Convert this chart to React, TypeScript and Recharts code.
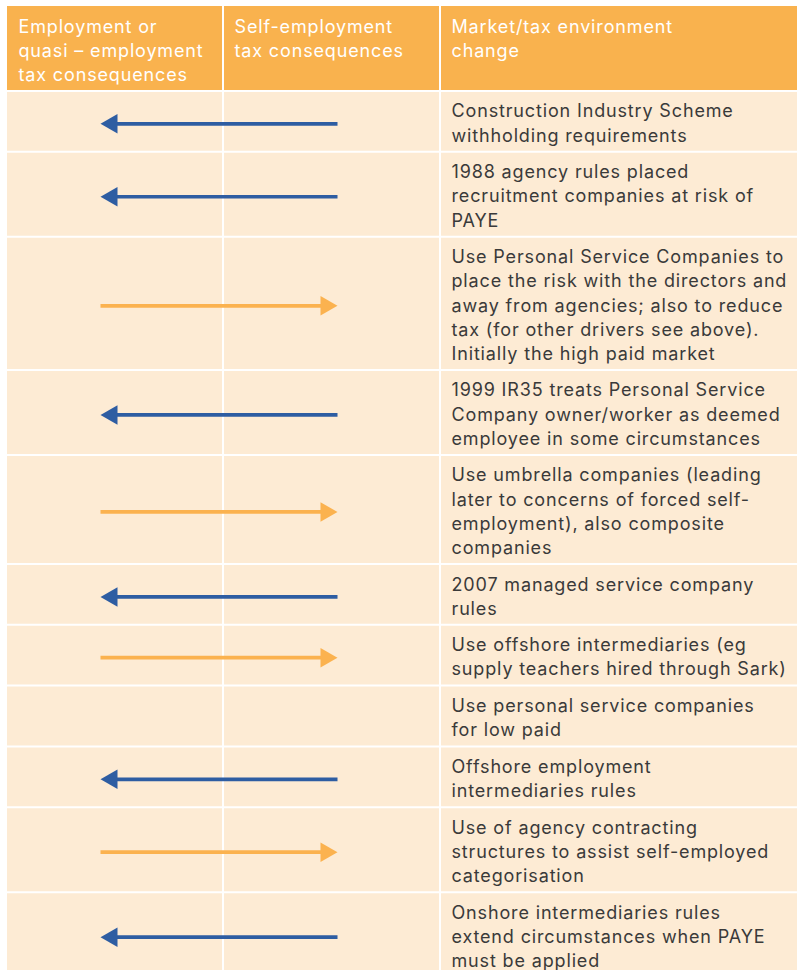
import React from 'react';
import { ComposedChart, XAxis, YAxis, ReferenceArea, ReferenceLine, Line, Scatter } from 'recharts';

// ---- data ----
const HEADER_LABELS: string[][] = [
  ['Employment or', 'quasi – employment', 'tax consequences'],
  ['Self-employment', 'tax consequences'],
  ['Market/tax environment', 'change'],
];

const CHANGE_TEXT: string[][] = [
  ['Construction Industry Scheme', 'withholding requirements'],
  ['1988 agency rules placed', 'recruitment companies at risk of', 'PAYE'],
  [
    'Use Personal Service Companies to',
    'place the risk with the directors and',
    'away from agencies; also to reduce',
    'tax (for other drivers see above).',
    'Initially the high paid market',
  ],
  ['1999 IR35 treats Personal Service', 'Company owner/worker as deemed', 'employee in some circumstances'],
  ['Use umbrella companies (leading', 'later to concerns of forced self-', 'employment), also composite', 'companies'],
  ['2007 managed service company', 'rules'],
  ['Use offshore intermediaries (eg', 'supply teachers hired through Sark)'],
  ['Use personal service companies', 'for low paid'],
  ['Offshore employment', 'intermediaries rules'],
  ['Use of agency contracting', 'structures to assist self-employed', 'categorisation'],
  ['Onshore intermediaries rules', 'extend circumstances when PAYE', 'must be applied'],
];

// direction of the shift: toward employment (left) or self-employment (right)
const SHIFT: ('employment' | 'self' | 'none')[] = [
  'employment', 'employment', 'self', 'employment', 'self', 'employment', 'self', 'none', 'employment', 'self', 'employment',
];

// ---- layout / style ----
const W = 797;
const H = 970;
const MARGIN = { top: 6, right: 0, bottom: 0, left: 7 };
const X_MAX = 790;
const Y_MAX = 964;
const COL_EDGES = [0, 216, 433, 790];
const LINE_H = 24.15;
const PAD = 12.5;
const BASE = 26.5;
const TEXT_INSET = 11.5;
const ARROW_A = 93.5;
const ARROW_B = 330.5;
const HEAD_LEN = 17;
const HEAD_H = 19.5;
const FONT = 'Inter, "Open Sans", sans-serif';
const FONT_SIZE = 18;
const LETTER_SPACING = 0.85;
const C_HEADER = '#F9B24E';
const C_ROW = '#FDEBD4';
const C_BLUE = '#2E5DA2';
const C_ORANGE = '#FBB24F';
const C_TEXT = '#3A3A3A';

const headerH = Math.max(...HEADER_LABELS.map((l) => l.length)) * LINE_H + PAD;

type Band = { y1: number; y2: number; lines: string[]; shift: string };
const bands: Band[] = [];
{
  let y = headerH;
  CHANGE_TEXT.forEach((lines, i) => {
    const h = lines.length * LINE_H + PAD;
    bands.push({ y1: y, y2: y + h, lines, shift: SHIFT[i] });
    y += h;
  });
}

const cellLabel = (lines: string[], color: string) => (p: any) => {
  const vb = p.viewBox || {};
  const x = vb.x + TEXT_INSET;
  const y = vb.y + BASE;
  return (
    <text
      x={x}
      y={y}
      fill={color}
      fontFamily={FONT}
      fontSize={FONT_SIZE}
      fontWeight={400}
      style={{ letterSpacing: `${LETTER_SPACING}px` }}
    >
      {lines.map((l, i) => (
        <tspan key={i} x={x} y={y + i * LINE_H}>
          {l}
        </tspan>
      ))}
    </text>
  );
};

const headShape = (dir: 'left' | 'right', color: string) => (p: any) => {
  const { cx, cy } = p;
  const pts =
    dir === 'left'
      ? `${cx},${cy} ${cx + HEAD_LEN},${cy - HEAD_H / 2} ${cx + HEAD_LEN},${cy + HEAD_H / 2}`
      : `${cx},${cy} ${cx - HEAD_LEN},${cy - HEAD_H / 2} ${cx - HEAD_LEN},${cy + HEAD_H / 2}`;
  return <polygon points={pts} fill={color} />;
};

export default function App() {
  return (
    <div style={{ position: 'absolute', left: 0, top: 0, width: W, height: H, background: '#fff' }}>
      <ComposedChart width={W} height={H} margin={MARGIN}>
        <XAxis type="number" dataKey="x" domain={[0, X_MAX]} allowDataOverflow hide />
        <YAxis type="number" dataKey="y" domain={[0, Y_MAX]} reversed allowDataOverflow hide />

        {/* header cells */}
        {HEADER_LABELS.map((lines, c) => (
          <ReferenceArea
            key={`h${c}`}
            x1={COL_EDGES[c]}
            x2={COL_EDGES[c + 1]}
            y1={0}
            y2={headerH}
            fill={C_HEADER}
            fillOpacity={1}
            stroke="none"
            ifOverflow="visible"
            label={cellLabel(lines, '#FFFFFF')}
          />
        ))}

        {/* body rows */}
        {bands.map((b, i) => (
          <ReferenceArea
            key={`r${i}`}
            x1={COL_EDGES[0]}
            x2={COL_EDGES[2]}
            y1={b.y1}
            y2={b.y2}
            fill={C_ROW}
            fillOpacity={1}
            stroke="none"
            ifOverflow="visible"
          />
        ))}
        {bands.map((b, i) => (
          <ReferenceArea
            key={`t${i}`}
            x1={COL_EDGES[2]}
            x2={COL_EDGES[3]}
            y1={b.y1}
            y2={b.y2}
            fill={C_ROW}
            fillOpacity={1}
            stroke="none"
            ifOverflow="visible"
            label={cellLabel(b.lines, C_TEXT)}
          />
        ))}

        {/* white grid lines */}
        {bands.map((b, i) => (
          <ReferenceLine key={`hl${i}`} y={b.y1} stroke="#FFFFFF" strokeWidth={2} ifOverflow="visible" />
        ))}
        {COL_EDGES.slice(1, 3).map((x, i) => (
          <ReferenceLine key={`vl${i}`} x={x} stroke="#FFFFFF" strokeWidth={2} ifOverflow="visible" />
        ))}

        {/* arrows */}
        {bands.map((b, i) => {
          if (b.shift === 'none') return null;
          const mid = (b.y1 + b.y2) / 2 + 2.5;
          const left = b.shift === 'employment';
          const color = left ? C_BLUE : C_ORANGE;
          const shaft = left
            ? [{ x: ARROW_A + HEAD_LEN * 0.6, y: mid }, { x: ARROW_B, y: mid }]
            : [{ x: ARROW_A, y: mid }, { x: ARROW_B - HEAD_LEN * 0.6, y: mid }];
          const tip = [{ x: left ? ARROW_A : ARROW_B, y: mid }];
          return (
            <React.Fragment key={`a${i}`}>
              <Line
                data={shaft}
                dataKey="y"
                type="linear"
                stroke={color}
                strokeWidth={3.7}
                dot={false}
                activeDot={false}
                isAnimationActive={false}
              />
              <Scatter data={tip} dataKey="y" fill={color} shape={headShape(left ? 'left' : 'right', color)} isAnimationActive={false} />
            </React.Fragment>
          );
        })}
      </ComposedChart>
    </div>
  );
}
